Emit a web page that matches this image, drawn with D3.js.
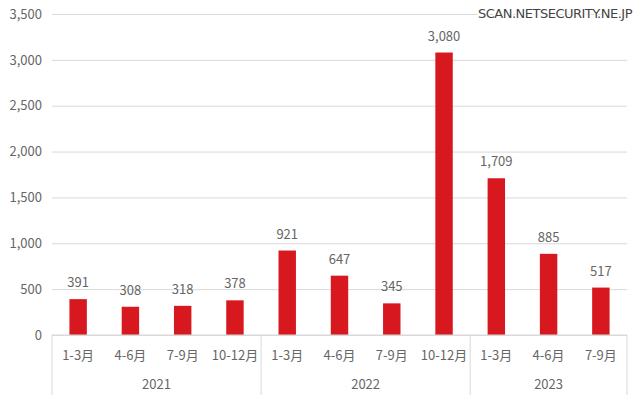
<!DOCTYPE html>
<html>
<head>
<meta charset="utf-8">
<script src="https://cdn.jsdelivr.net/npm/d3@7"></script>
<style>
  body { margin: 0; background: #fff; }
  svg text { font-family: "Noto Sans CJK JP", "Noto Sans", sans-serif; }
</style>
</head>
<body>
<svg id="chart" width="640" height="399"></svg>
<script>
// データ
var quarters = ["1-3月", "4-6月", "7-9月", "10-12月", "1-3月", "4-6月", "7-9月", "10-12月", "1-3月", "4-6月", "7-9月"];
var years = ["2021", "2022", "2023"];
var yearOf = [0, 0, 0, 0, 1, 1, 1, 1, 2, 2, 2];
var counts = [391, 308, 318, 378, 921, 647, 345, 3080, 1709, 885, 517];
var yTicks = [0, 500, 1000, 1500, 2000, 2500, 3000, 3500];

var margin = { top: 14, right: 13, bottom: 64, left: 52 },
    width = 640 - margin.left - margin.right,
    height = 399 - margin.top - margin.bottom;

var svg = d3.select("#chart");
var g = svg.append("g")
  .attr("transform", "translate(" + margin.left + "," + margin.top + ")");

var x = d3.scaleBand()
  .domain(d3.range(counts.length))
  .range([0, width])
  .paddingInner(2 / 3)
  .paddingOuter(1 / 3);

var y = d3.scaleLinear()
  .domain([0, 3500])
  .range([height, 0]);

// 目盛り線
g.append("g")
  .call(d3.axisLeft(y).tickValues(yTicks).tickSize(-width).tickFormat(d3.format(",")))
  .call(function(a) {
    a.select(".domain").remove();
    a.selectAll(".tick line").attr("stroke", "#d9d9d9");
    a.selectAll(".tick text")
      .attr("x", -10)
      .attr("fill", "#666")
      .style("font-size", "13px");
  });

// 棒
g.selectAll("rect.bar")
  .data(counts)
  .enter().append("rect")
  .attr("class", "bar")
  .attr("x", function(d, i) { return x(i); })
  .attr("width", x.bandwidth())
  .attr("y", function(d) { return y(d); })
  .attr("height", function(d) { return height - y(d); })
  .attr("fill", "#d7181f");

// 値ラベル
g.selectAll("text.val")
  .data(counts)
  .enter().append("text")
  .attr("class", "val")
  .attr("x", function(d, i) { return x(i) + x.bandwidth() / 2; })
  .attr("y", function(d) { return y(d) - 12; })
  .attr("text-anchor", "middle")
  .attr("fill", "#666")
  .style("font-size", "13px")
  .text(function(d) { return d3.format(",")(d); });

// 横軸（2段）
var step = x.step();
var axis = g.append("g").attr("transform", "translate(0," + height + ")");
axis.append("line")
  .attr("x1", 0).attr("x2", width)
  .attr("stroke", "#d9d9d9");

axis.selectAll("text.q")
  .data(quarters)
  .enter().append("text")
  .attr("class", "q")
  .attr("x", function(d, i) { return x(i) + x.bandwidth() / 2; })
  .attr("y", 25)
  .attr("text-anchor", "middle")
  .attr("fill", "#666")
  .style("font-size", "13px")
  .text(function(d) { return d; });

// 年ごとの区切り
var bounds = years.map(function(yr, k) {
  var idx = d3.range(counts.length).filter(function(i) { return yearOf[i] === k; });
  return [idx[0] * step, (idx[idx.length - 1] + 1) * step];
});
var seps = [0].concat(bounds.map(function(b) { return b[1]; }));
axis.selectAll("line.sep")
  .data(seps)
  .enter().append("line")
  .attr("class", "sep")
  .attr("x1", function(d) { return d; })
  .attr("x2", function(d) { return d; })
  .attr("y1", 0)
  .attr("y2", 60)
  .attr("stroke", "#d9d9d9");

axis.selectAll("text.yr")
  .data(years)
  .enter().append("text")
  .attr("class", "yr")
  .attr("x", function(d, k) { return (bounds[k][0] + bounds[k][1]) / 2; })
  .attr("y", 54)
  .attr("text-anchor", "middle")
  .attr("fill", "#666")
  .style("font-size", "13px")
  .text(function(d) { return d; });

// 透かし
svg.append("text")
  .attr("x", 632)
  .attr("y", 18)
  .attr("text-anchor", "end")
  .attr("fill", "#444")
  .attr("stroke", "#fff")
  .attr("stroke-width", 3)
  .attr("paint-order", "stroke")
  .style("font-family", "'DejaVu Sans', sans-serif")
  .style("font-size", "13px")
  .style("letter-spacing", "-0.5px")
  .text("SCAN.NETSECURITY.NE.JP");
</script>
</body>
</html>
